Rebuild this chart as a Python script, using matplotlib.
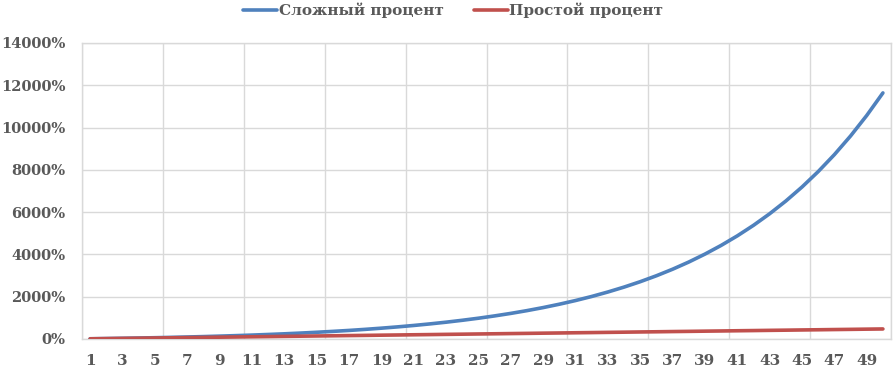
import matplotlib
matplotlib.use("Agg")
import matplotlib.pyplot as plt
from matplotlib.ticker import FixedLocator, FuncFormatter

# years 1..50
periods = list(range(1, 51))

# compound interest, %
compound = [10, 21, 33, 46, 61, 77, 95, 114, 136, 159,
            185, 214, 245, 280, 318, 360, 405, 456, 512, 573,
            640, 714, 795, 885, 983, 1092, 1211, 1342, 1486, 1645,
            1819, 2011, 2223, 2455, 2710, 2991, 3300, 3640, 4015, 4426,
            4878, 5376, 5924, 6526, 7189, 7918, 8720, 9602, 10572, 11639]

# simple interest, %
simple = [10, 19, 29, 38, 48, 57, 67, 76, 86, 95,
          105, 114, 124, 133, 143, 152, 162, 171, 181, 190,
          200, 209, 219, 228, 238, 247, 257, 266, 276, 285,
          295, 304, 314, 323, 333, 342, 352, 361, 371, 380,
          390, 399, 409, 418, 428, 437, 447, 456, 466, 475]

series_names = ["Сложный процент", "Простой процент"]
colors = ["#4F81BD", "#C0504D"]
text_color = "#595959"
grid_color = "#D9D9D9"

plt.rcParams['font.family'] = ['DejaVu Serif']
plt.rcParams['font.weight'] = 'bold'

fig = plt.figure(figsize=(8.94, 3.70), dpi=100)
ax = fig.add_axes([82 / 894, 1 - 339 / 370, (891 - 82) / 894, (339 - 43) / 370])

ax.plot(periods, compound, color=colors[0], lw=2.6, solid_capstyle='round',
        label=series_names[0], zorder=3)
ax.plot(periods, simple, color=colors[1], lw=2.6, solid_capstyle='round',
        label=series_names[1], zorder=3)

ax.set_xlim(0.5, 50.5)
ax.set_ylim(0, 14000)

ax.set_xticks(periods[::2])
ax.set_xticklabels([str(p) for p in periods[::2]])
ax.xaxis.set_minor_locator(FixedLocator([0.5 + 5 * k for k in range(11)]))
ax.set_yticks(range(0, 14001, 2000))
ax.yaxis.set_major_formatter(FuncFormatter(lambda v, _: f"{int(v)}%"))

ax.grid(False)
ax.grid(True, which='minor', axis='x', color=grid_color, lw=1)
ax.grid(True, which='major', axis='y', color=grid_color, lw=1)
ax.set_axisbelow(True)

ax.tick_params(axis='both', which='both', length=0, colors=text_color,
               labelsize=10.5)
ax.tick_params(axis='x', pad=11, labelsize=11)
ax.tick_params(axis='y', pad=12)
for s in ax.spines.values():
    s.set_color(grid_color)
    s.set_linewidth(1)

fig.legend(loc='upper center', bbox_to_anchor=(0.507, 1.03), ncol=2,
           frameon=False, handlelength=2.2, handletextpad=0.1,
           columnspacing=2.0, prop={'size': 11, 'weight': 'bold'},
           labelcolor=text_color)

fig.savefig("out.png", dpi=100)
